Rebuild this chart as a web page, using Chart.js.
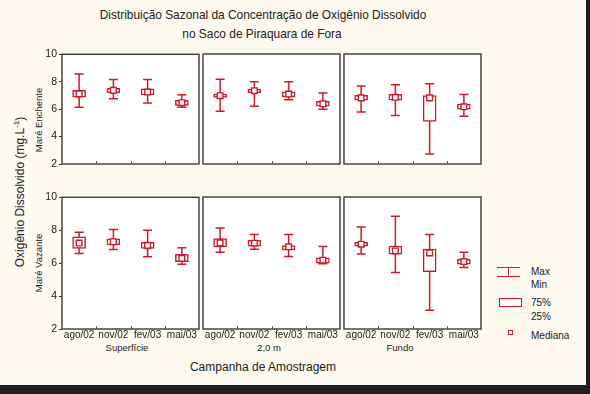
<!DOCTYPE html>
<html>
<head>
<meta charset="utf-8">
<script src="https://cdn.jsdelivr.net/npm/chart.js@4.4.1/dist/chart.umd.min.js"></script>
<style>
  html, body { margin: 0; padding: 0; }
  body { width: 590px; height: 394px; overflow: hidden; }
  #wrap { position: relative; width: 590px; height: 394px; background: #fdf9ee; font-family: "Liberation Sans", Arial, sans-serif; color: #222; }
  canvas { position: absolute; }
  .t { position: absolute; white-space: nowrap; }
  .c { transform: translate(-50%, -50%); }
  .r { transform: translate(-50%, -50%) rotate(-90deg); }
  #edgeR { position: absolute; left: 586px; top: 0; width: 4px; height: 394px; background: #1e1e1e; }
  #edgeB { position: absolute; left: 0; top: 385px; width: 590px; height: 9px; background: #1e1e1e; }
</style>
</head>
<body>
<div id="wrap">
  <div class="t c" style="left:263px;top:15px;font-size:11.9px;">Distribuição Sazonal da Concentração de Oxigênio Dissolvido</div>
  <div class="t c" style="left:262px;top:34px;font-size:11.9px;">no Saco de Piraquara de Fora</div>
  <div class="t r" style="left:19px;top:192px;font-size:12px;">Oxigênio Dissolvido (mg.L<sup style="font-size:8px">-1</sup>)</div>
  <div class="t r" id="tide0" style="left:38px;top:120px;font-size:9.5px;"></div>
  <div class="t r" id="tide1" style="left:38px;top:263px;font-size:9.5px;"></div>
  <div class="t c" id="depth0" style="left:127px;top:347px;font-size:9.5px;"></div>
  <div class="t c" id="depth1" style="left:269px;top:347px;font-size:9.5px;"></div>
  <div class="t c" id="depth2" style="left:400px;top:347px;font-size:9.5px;"></div>
  <div class="t c" style="left:263px;top:367px;font-size:12px;">Campanha de Amostragem</div>

  <!-- legend -->
  <div style="position:absolute;left:497px;top:267px;width:23px;height:0;border-top:1.5px solid #cc1b2b;"></div>
  <div style="position:absolute;left:497px;top:276px;width:23px;height:0;border-top:1.5px solid #cc1b2b;"></div>
  <div style="position:absolute;left:508px;top:267px;width:0;height:10px;border-left:1.5px solid #cc1b2b;"></div>
  <div class="t" style="left:531px;top:266px;font-size:10px;">Max</div>
  <div class="t" style="left:531px;top:279px;font-size:10px;">Min</div>
  <div style="position:absolute;left:499px;top:298px;width:21px;height:7px;border:1.5px solid #cc1b2b;background:#fff;"></div>
  <div class="t" style="left:531px;top:297px;font-size:10px;">75%</div>
  <div class="t" style="left:531px;top:311px;font-size:10px;">25%</div>
  <div style="position:absolute;left:508px;top:330px;width:3px;height:3px;border:1.5px solid #cc1b2b;background:#fff;"></div>
  <div class="t" style="left:531px;top:330px;font-size:10px;">Mediana</div>

  <div id="edgeR"></div>
  <div id="edgeB"></div>
</div>
<script>
// ---- data (mg/L) ----
const categories = ['ago/02', 'nov/02', 'fev/03', 'mai/03'];
const depths = ['Superfície', '2,0 m', 'Fundo'];
const tides = ['Maré  Enchente', 'Maré  Vazante'];
const yTicks = [2, 4, 6, 8, 10];

// Maré Enchente — Superfície, 2,0 m, Fundo (4 campaigns each)
const enchSupMax = [8.57, 8.16, 8.16, 7.05];
const enchSupQ3  = [7.37, 7.52, 7.49, 6.65];
const enchSupMed = [7.11, 7.37, 7.25, 6.47];
const enchSupQ1  = [6.87, 7.21, 7.03, 6.28];
const enchSupMin = [6.14, 6.75, 6.44, 6.14];

const ench2mMax = [8.16, 7.98, 7.98, 7.17];
const ench2mQ3  = [7.09, 7.45, 7.25, 6.55];
const ench2mMed = [6.97, 7.33, 7.09, 6.38];
const ench2mQ1  = [6.85, 7.19, 6.87, 6.20];
const ench2mMin = [5.84, 6.20, 6.67, 5.98];

const enchFunMax = [7.68, 7.76, 7.84, 7.05];
const enchFunQ3  = [6.99, 7.07, 6.97, 6.36];
const enchFunMed = [6.81, 6.85, 6.81, 6.16];
const enchFunQ1  = [6.65, 6.65, 5.09, 5.98];
const enchFunMin = [5.78, 5.52, 2.73, 5.47];

// Maré Vazante
const vazSupMax = [7.88, 8.04, 8.00, 6.94];
const vazSupQ3  = [7.60, 7.48, 7.26, 6.53];
const vazSupMed = [7.22, 7.30, 7.08, 6.29];
const vazSupQ1  = [6.90, 7.10, 6.90, 6.09];
const vazSupMin = [6.59, 6.83, 6.39, 5.93];

const vaz2mMax = [8.12, 7.72, 7.72, 7.00];
const vaz2mQ3  = [7.48, 7.38, 7.06, 6.31];
const vaz2mMed = [7.22, 7.20, 6.98, 6.17];
const vaz2mQ1  = [6.98, 7.02, 6.80, 5.99];
const vaz2mMin = [6.65, 6.83, 6.39, 5.95];

const vazFunMax = [8.18, 8.83, 7.72, 6.65];
const vazFunQ3  = [7.26, 7.02, 6.85, 6.23];
const vazFunMed = [7.14, 6.73, 6.61, 6.09];
const vazFunQ1  = [7.02, 6.53, 5.48, 5.93];
const vazFunMin = [6.55, 5.42, 3.13, 5.73];

const panels = [
  [ {max: enchSupMax, q3: enchSupQ3, med: enchSupMed, q1: enchSupQ1, min: enchSupMin},
    {max: ench2mMax,  q3: ench2mQ3,  med: ench2mMed,  q1: ench2mQ1,  min: ench2mMin},
    {max: enchFunMax, q3: enchFunQ3, med: enchFunMed, q1: enchFunQ1, min: enchFunMin} ],
  [ {max: vazSupMax, q3: vazSupQ3, med: vazSupMed, q1: vazSupQ1, min: vazSupMin},
    {max: vaz2mMax,  q3: vaz2mQ3,  med: vaz2mMed,  q1: vaz2mQ1,  min: vaz2mMin},
    {max: vazFunMax, q3: vazFunQ3, med: vazFunMed, q1: vazFunQ1, min: vazFunMin} ]
];

// ---- labels ----
document.getElementById('tide0').textContent = tides[0];
document.getElementById('tide1').textContent = tides[1];
depths.forEach((d, i) => document.getElementById('depth' + i).textContent = d);

// ---- drawing ----
const RED = '#cc1b2b';
const FONT = "'Liberation Sans', Arial, sans-serif";
const colLeft = [62, 203, 344];
const rowTop = [54, 197];
const PW = 137, PH = 132, AX = 40, PADT = 8, PADR = 8, XH = 22;

const panelPlugin = {
  id: 'panelPlugin',
  beforeDraw(chart) {
    const a = chart.chartArea, ctx = chart.ctx;
    ctx.save();
    ctx.fillStyle = '#ffffff';
    ctx.fillRect(a.left, a.top, a.right - a.left, a.bottom - a.top);
    ctx.restore();
  },
  beforeDatasetsDraw(chart) {
    const o = chart.options.plugins.panelPlugin;
    const xs = chart.scales.x, ys = chart.scales.y, ctx = chart.ctx;
    ctx.save();
    ctx.strokeStyle = RED;
    ctx.lineWidth = 1.5;
    o.max.forEach((mx, i) => {
      const x = xs.getPixelForValue(i);
      const yT = ys.getPixelForValue(mx), yB = ys.getPixelForValue(o.min[i]);
      ctx.beginPath();
      ctx.moveTo(x, yT); ctx.lineTo(x, yB);
      ctx.moveTo(x - 4.5, yT); ctx.lineTo(x + 4.5, yT);
      ctx.moveTo(x - 4.5, yB); ctx.lineTo(x + 4.5, yB);
      ctx.stroke();
    });
    ctx.restore();
  },
  afterDraw(chart) {
    const a = chart.chartArea, ctx = chart.ctx;
    const xs = chart.scales.x;
    ctx.save();
    ctx.strokeStyle = '#3a3a3a';
    ctx.lineWidth = 1.4;
    ctx.strokeRect(a.left, a.top, a.right - a.left, a.bottom - a.top);
    // inner tick marks at category boundaries
    ctx.lineWidth = 1;
    ctx.strokeStyle = '#555';
    for (let i = 1; i < categories.length; i++) {
      const x = Math.round((xs.getPixelForValue(i - 1) + xs.getPixelForValue(i)) / 2) + 0.5;
      ctx.beginPath();
      ctx.moveTo(x, a.bottom); ctx.lineTo(x, a.bottom - 3);
      ctx.stroke();
    }
    ctx.restore();
  }
};

function makePanel(r, c) {
  const s = panels[r][c];
  const isLeft = c === 0, isBottom = r === 1;
  const cv = document.createElement('canvas');
  const w = AX + PW + PADR;
  const h = PADT + PH + (isBottom ? XH : 4);
  cv.width = w; cv.height = h;
  cv.style.left = (colLeft[c] - AX) + 'px';
  cv.style.top = (rowTop[r] - PADT) + 'px';
  cv.style.width = w + 'px'; cv.style.height = h + 'px';
  document.getElementById('wrap').appendChild(cv);

  new Chart(cv, {
    type: 'bar',
    data: {
      labels: categories,
      datasets: [
        {
          type: 'line',
          data: s.med,
          showLine: false,
          pointStyle: 'rect',
          pointRadius: 4,
          pointHoverRadius: 4,
          pointBackgroundColor: '#ffffff',
          pointBorderColor: RED,
          pointBorderWidth: 1.4,
          order: 0
        },
        {
          type: 'bar',
          data: s.q1.map((v, i) => [v, s.q3[i]]),
          backgroundColor: '#ffffff',
          borderColor: RED,
          borderWidth: 1.5,
          borderSkipped: false,
          barThickness: 13,
          order: 1
        }
      ]
    },
    options: {
      responsive: false,
      animation: false,
      devicePixelRatio: 1,
      layout: { padding: { top: PADT, right: PADR, left: 0, bottom: isBottom ? 0 : 4 } },
      plugins: {
        legend: { display: false },
        tooltip: { enabled: false },
        panelPlugin: { max: s.max, min: s.min }
      },
      scales: {
        x: {
          display: isBottom,
          offset: true,
          grid: { display: false, drawTicks: false, tickLength: 0 },
          border: { display: false },
          ticks: { color: '#222', font: { family: FONT, size: 10 }, padding: 0, maxRotation: 0, autoSkip: false },
          afterFit(sc) { sc.height = XH; }
        },
        y: {
          min: yTicks[0],
          max: yTicks[yTicks.length - 1],
          afterBuildTicks(sc) { sc.ticks = yTicks.map(v => ({ value: v })); },
          grid: { display: isLeft, drawOnChartArea: false, drawTicks: true, tickLength: 3, color: '#333' },
          border: { display: false },
          ticks: { display: isLeft, color: '#222', font: { family: FONT, size: 10.5 }, padding: 2 },
          afterFit(sc) { sc.width = AX; }
        }
      }
    },
    plugins: [panelPlugin]
  });
}

for (let r = 0; r < 2; r++) for (let c = 0; c < 3; c++) makePanel(r, c);
</script>
</body>
</html>
